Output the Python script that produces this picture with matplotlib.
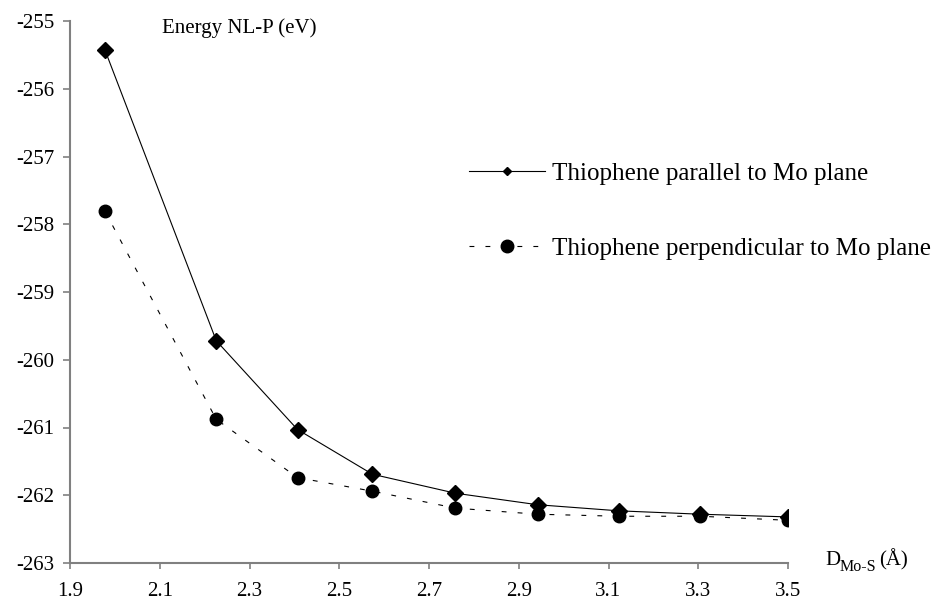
import matplotlib
matplotlib.use("Agg")
import matplotlib.pyplot as plt
from matplotlib.lines import Line2D

# values
d_mo_s = [1.978, 2.226, 2.407, 2.574, 2.759, 2.942, 3.123, 3.305, 3.501]
e_parallel = [-255.43, -259.72, -261.03, -261.69, -261.97, -262.14, -262.23, -262.28, -262.32]
e_perpendicular = [-257.81, -260.88, -261.74, -261.94, -262.19, -262.28, -262.31, -262.31, -262.37]

x_ticks = [1.9, 2.1, 2.3, 2.5, 2.7, 2.9, 3.1, 3.3, 3.5]
y_ticks = [-263, -262, -261, -260, -259, -258, -257, -256, -255]

label_par = "Thiophene parallel to Mo plane"
label_perp = "Thiophene perpendicular to Mo plane"

plt.rcParams['font.family'] = ['Liberation Serif', 'DejaVu Serif']
plt.rcParams['axes.unicode_minus'] = False
plt.rcParams['lines.scale_dashes'] = False

W, H = 932, 601
fig = plt.figure(figsize=(W / 100, H / 100), dpi=100)
ax = fig.add_axes([70 / W, 1 - 563 / H, (788 - 70) / W, (563 - 21) / H])

dash = (0, (3.5, 8))
ax.plot(d_mo_s, e_parallel, color='black', lw=0.8, marker='D', ms=8, zorder=3)
ax.plot(d_mo_s, e_perpendicular, color='black', lw=0.8, ls=dash, marker='o', ms=9, zorder=3)

ax.set_xlim(1.9, 3.5)
ax.set_ylim(-263, -255)
ax.set_xticks(x_ticks)
ax.set_yticks(y_ticks)
ax.set_xticklabels([f"{v:.1f}" for v in x_ticks])
ax.set_yticklabels([str(v) for v in y_ticks])

for side in ['top', 'right']:
    ax.spines[side].set_visible(False)
for side in ['left', 'bottom']:
    ax.spines[side].set_color('#808080')
    ax.spines[side].set_linewidth(1.5)
ax.tick_params(direction='out', length=5, width=1.2, color='#808080',
               labelsize=15, labelcolor='black')
ax.tick_params(axis='y', pad=6)
ax.tick_params(axis='x', length=4, pad=10)

# axis titles sit inside / beside the plot like the original
fig.text(162 / W, 1 - 28 / H, "Energy NL-P (eV)", fontsize=15, va='center', ha='left')
fig.text(825 / W, 1 - 565 / H, "D", fontsize=15, va='baseline', ha='left')
fig.text(840 / W, 1 - 571 / H, "Mo-S", fontsize=11.5, va='baseline', ha='left')
fig.text(879 / W, 1 - 565 / H, "(Å)", fontsize=15, va='baseline', ha='left')

handles = [
    Line2D([], [], color='black', lw=0.8, marker='D', ms=4),
    Line2D([], [], color='black', lw=0.8, ls=dash, marker='o', ms=9),
]
ax.legend(handles, [label_par, label_perp], loc='center left',
          bbox_to_anchor=(469 / W, 1 - 211 / H), bbox_transform=fig.transFigure,
          frameon=False, fontsize=18, borderpad=0, borderaxespad=0,
          handlelength=3.05, handletextpad=0.28, labelspacing=2.1)

fig.savefig("out.png", dpi=100)
